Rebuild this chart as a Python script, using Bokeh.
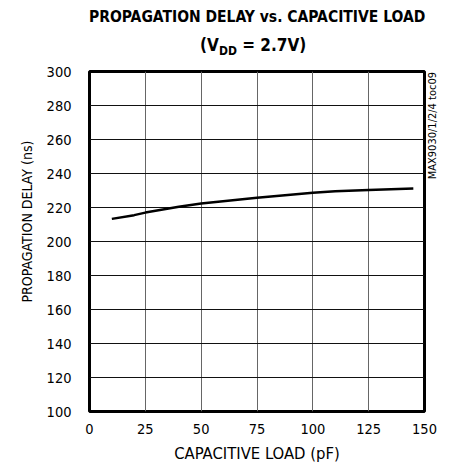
import numpy as np
from bokeh.plotting import figure
from bokeh.models import Range1d, FixedTicker, Title, Div
from bokeh.layouts import column, row
from bokeh.embed import file_html
from bokeh.resources import INLINE

cap_load = [10, 20, 25, 40, 50, 75, 100, 110, 125, 145]
prop_delay = [213.3, 215.5, 217.0, 220.5, 222.3, 225.8, 228.7, 229.5, 230.3, 231.2]
x_ticks = [0, 25, 50, 75, 100, 125, 150]
y_ticks = [100, 120, 140, 160, 180, 200, 220, 240, 260, 280, 300]

FONT = "DejaVu Sans Condensed"

title_div = Div(
    text=("PROPAGATION DELAY vs. CAPACITIVE LOAD<br>"
          "<span style='position:relative;left:-4px;font-size:17px'>(V<sub style='font-size:12px'>DD</sub> = 2.7V)</span>"),
    width=335, height=60, margin=(0, 0, 0, 89),
    styles={"font-family": FONT, "font-weight": "bold", "font-size": "15.5px",
            "text-align": "center", "line-height": "28px", "color": "black",
            "padding-top": "3px", "white-space": "nowrap"})

p = figure(width=440, height=408, output_backend="svg", toolbar_location=None,
           x_range=Range1d(0, 150), y_range=Range1d(100, 300),
           min_border_left=89, min_border_right=16, min_border_top=11, min_border_bottom=57,
           margin=(0, 0, 0, 0))
p.background_fill_color = "white"
p.outline_line_color = "black"
p.outline_line_width = 3

p.line(cap_load, prop_delay, line_color="black", line_width=2.5)

for ax in (p.xaxis[0], p.yaxis[0]):
    ax.axis_line_color = None
    ax.major_tick_line_color = None
    ax.minor_tick_line_color = None
    ax.major_tick_out = 0
    ax.major_tick_in = 0
    ax.minor_tick_out = 0
    ax.major_label_text_font = FONT
    ax.major_label_text_font_size = "14.5px"
    ax.major_label_text_color = "black"
    ax.axis_label_text_font = FONT
    ax.axis_label_text_font_style = "normal"
    ax.axis_label_text_color = "black"

p.xaxis.ticker = FixedTicker(ticks=x_ticks)
p.yaxis.ticker = FixedTicker(ticks=y_ticks)
p.xaxis.axis_label = "CAPACITIVE LOAD (pF)"
p.xaxis.axis_label_text_font_size = "16.5px"
p.xaxis.major_label_standoff = 12
p.yaxis.major_label_standoff = 18
p.xaxis.axis_label_standoff = 7

ylab = Title(text="PROPAGATION DELAY (ns)", text_font=FONT, text_font_size="14px",
             text_font_style="normal", align="left", text_color="black",
             offset=109, standoff=17)
p.add_layout(ylab, "left")

p.xgrid.grid_line_color = "#666666"
p.ygrid.grid_line_color = "#111111"
p.xgrid.grid_line_width = 1
p.ygrid.grid_line_width = 1

side_div = Div(
    text=("<span style='display:inline-block;writing-mode:vertical-rl;"
          "transform:rotate(180deg);white-space:nowrap'>MAX9030/1/2/4 toc09</span>"),
    width=16, height=150, margin=(0, 0, 0, -13),
    styles={"font-family": FONT, "font-size": "11px", "color": "black",
            "padding-top": "12px", "padding-left": "0px", "line-height": "12px"})

layout = column(title_div, row(p, side_div, spacing=0), spacing=0)
open("out.html", "w").write(file_html(layout, INLINE))
